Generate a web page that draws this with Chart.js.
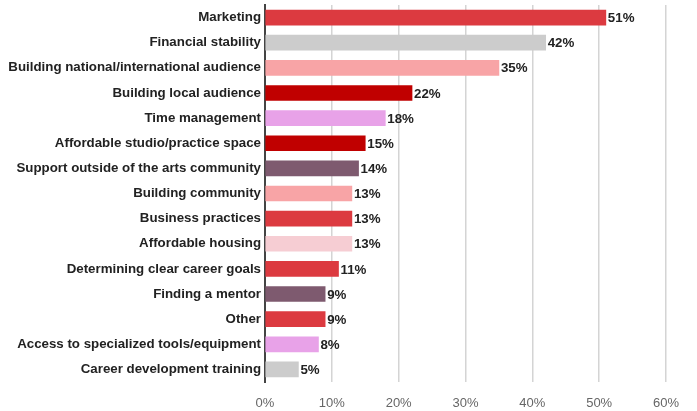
<!DOCTYPE html>
<html>
<head>
<meta charset="utf-8">
<script src="https://cdn.jsdelivr.net/npm/chart.js@4/dist/chart.umd.min.js"></script>
<style>
  html, body { margin: 0; padding: 0; background: #ffffff; }
  #wrap { width: 697px; height: 411px; position: relative; }
</style>
</head>
<body>
<div id="wrap"><canvas id="c" width="697" height="411"></canvas></div>
<script>
const categories = [
  "Marketing",
  "Financial stability",
  "Building national/international audience",
  "Building local audience",
  "Time management",
  "Affordable studio/practice space",
  "Support outside of the arts community",
  "Building community",
  "Business practices",
  "Affordable housing",
  "Determining clear career goals",
  "Finding a mentor",
  "Other",
  "Access to specialized tools/equipment",
  "Career development training"
];
const values = [51, 42, 35, 22, 18, 15, 14, 13, 13, 13, 11, 9, 9, 8, 5];
const barColors = [
  "#dc3a40", "#cccccc", "#f8a4a6", "#c00000", "#e8a2e8",
  "#c00000", "#7e5a6f", "#f8a4a6", "#dc3a40", "#f6cdd3",
  "#dc3a40", "#7e5a6f", "#dc3a40", "#e8a2e8", "#cccccc"
];
const xTicks = [0, 10, 20, 30, 40, 50, 60];

const valueLabels = {
  id: 'valueLabels',
  afterDatasetsDraw(chart) {
    const ctx = chart.ctx;
    const meta = chart.getDatasetMeta(0);
    ctx.save();
    ctx.font = 'bold 13.3px "Liberation Sans", Arial, sans-serif';
    ctx.fillStyle = '#222222';
    ctx.textAlign = 'left';
    ctx.textBaseline = 'middle';
    meta.data.forEach((bar, i) => {
      ctx.fillText(values[i] + '%', bar.x + 2, bar.y + 1);
    });
    ctx.restore();
  }
};

new Chart(document.getElementById('c'), {
  type: 'bar',
  data: {
    labels: categories,
    datasets: [{
      data: values,
      backgroundColor: barColors,
      borderWidth: 0,
      barThickness: 15
    }]
  },
  options: {
    indexAxis: 'y',
    responsive: false,
    animation: false,
    layout: { padding: { top: 5, right: 31, left: 0, bottom: 0 } },
    plugins: {
      legend: { display: false },
      tooltip: { enabled: false }
    },
    scales: {
      x: {
        min: 0,
        max: 60,
        afterBuildTicks(scale) { scale.ticks = xTicks.map(v => ({ value: v })); },
        afterFit(scale) { scale.height = 29; },
        grid: { color: '#d4d4d4', lineWidth: 1.5, drawTicks: false },
        border: { display: false },
        ticks: {
          padding: 14,
          color: '#666666',
          font: { family: '"Liberation Sans", Arial, sans-serif', size: 13 },
          callback: v => v + '%'
        }
      },
      y: {
        afterFit(scale) { scale.width = 265; scale.paddingTop = 0; scale.paddingBottom = 0; },
        grid: { display: false, drawTicks: false },
        border: { display: true, color: '#444444', width: 2 },
        ticks: {
          padding: 4,
          color: '#222222',
          autoSkip: false,
          font: { family: '"Liberation Sans", Arial, sans-serif', size: 13.3, weight: 'bold' }
        }
      }
    }
  },
  plugins: [valueLabels]
});
</script>
</body>
</html>
